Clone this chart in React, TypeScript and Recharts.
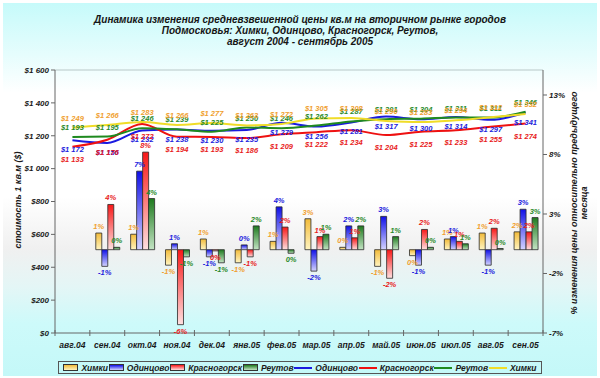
import React from 'react';
import { ComposedChart, Bar, Line, XAxis, YAxis, LabelList, ReferenceLine } from 'recharts';

const months = ['авг.04', 'сен.04', 'окт.04', 'ноя.04', 'дек.04', 'янв.05', 'фев.05', 'мар.05', 'апр.05', 'май.05', 'июн.05', 'июл.05', 'авг.05', 'сен.05'];

const khimkiPrice = [1249, 1266, 1283, 1266, 1277, 1263, 1272, 1305, 1308, 1290, 1283, 1294, 1312, 1332];
const odintsovoPrice = [1172, 1156, 1232, 1238, 1230, 1235, 1279, 1256, 1281, 1317, 1300, 1314, 1297, 1341];
const krasnogorskPrice = [1133, 1176, 1272, 1194, 1193, 1186, 1209, 1222, 1234, 1204, 1225, 1233, 1255, 1274];
const reutovPrice = [1193, 1195, 1246, 1239, 1225, 1250, 1246, 1262, 1287, 1301, 1304, 1311, 1311, 1346];

const khimkiChange = [null, 1.4, 1.3, -1.3, 0.9, -1.1, 0.7, 2.6, 0.2, -1.4, -0.5, 0.9, 1.4, 1.5];
const odintsovoChange = [null, -1.4, 6.6, 0.5, -0.6, 0.4, 3.6, -1.8, 2.0, 2.8, -1.3, 1.1, -1.3, 3.4];
const krasnogorskChange = [null, 3.8, 8.2, -6.3, -0.1, -0.6, 1.9, 1.1, 1.0, -2.4, 1.7, 0.7, 1.8, 1.5];
const reutovChange = [null, 0.2, 4.3, -0.6, -1.1, 2.0, -0.3, 1.3, 2.0, 1.1, 0.2, 0.5, 0.1, 2.7];

const priceTicks = [0, 200, 400, 600, 800, 1000, 1200, 1400, 1600];
const pctTicks = [-7, -2, 3, 8, 13];

const titleLines = [
  'Динамика изменения средневзвешенной цены кв.м на вторичном рынке городов',
  'Подмосковья: Химки, Одинцово, Красногорск, Реутов,',
  'август 2004 - сентябрь 2005',
];

const data = months.map((m, i) => ({
  month: m,
  khimkiP: khimkiPrice[i],
  odintsovoP: odintsovoPrice[i],
  krasnogorskP: krasnogorskPrice[i],
  reutovP: reutovPrice[i],
  khimkiC: khimkiChange[i],
  odintsovoC: odintsovoChange[i],
  krasnogorskC: krasnogorskChange[i],
  reutovC: reutovChange[i],
}));

const FONT = '"Liberation Sans", Arial, sans-serif';
const W = 600;
const H = 378;
const MARGIN = { top: 70, right: 7, bottom: 15, left: 5 };
const Y_W = 50;
const PLOT_W = W - MARGIN.left - MARGIN.right - 2 * Y_W;
const BAND = PLOT_W / months.length;

const C = {
  khimki: { top: '#f2bb3a', bottom: '#fff4c0', label: '#f0a030', line: '#f0dc28' },
  odintsovo: { top: '#1010e8', bottom: '#d4d4ff', label: '#2222dd', line: '#1a1ae0' },
  krasnogorsk: { top: '#f81818', bottom: '#ffe0e0', label: '#e81c1c', line: '#ee1111' },
  reutov: { top: '#1e7a1e', bottom: '#c4e4c4', label: '#2a8a2a', line: '#1f8a1f' },
};

const fmtPrice = (v: number) => {
  if (v >= 1000) {
    const th = Math.floor(v / 1000);
    const rest = String(v % 1000).padStart(3, '0');
    return `$${th} ${rest}`;
  }
  return `$${v}`;
};

const fmtPct = (v: number) => `${Math.round(v)}%`;

const makeBarLabel = (color: string) => (props: any) => {
  const { x, y, width, height, value } = props;
  if (value === null || value === undefined) return null;
  const nx = Number(x), ny = Number(y), nw = Number(width), nh = Number(height);
  const top = Math.min(ny, ny + nh);
  const bottom = Math.max(ny, ny + nh);
  const ty = value >= 0 ? top - 4 : bottom + 9;
  return (
    <text x={nx + nw / 2} y={ty} textAnchor="middle" fill={color} fontSize={7.5}
      fontStyle="italic" fontWeight="bold" fontFamily={FONT}>
      {fmtPct(Number(value))}
    </text>
  );
};

const makeLineLabel = (color: string, dy: number) => (props: any) => {
  const { x, y, value } = props;
  if (value === null || value === undefined) return null;
  return (
    <text x={Number(x)} y={Number(y) + dy} textAnchor="middle" fill={color} fontSize={7.5}
      fontStyle="italic" fontWeight="bold" fontFamily={FONT}>
      {fmtPrice(Number(value))}
    </text>
  );
};

const XTick = (props: any) => {
  const { x, y, payload, index } = props;
  const half = BAND / 2;
  return (
    <g>
      <line x1={x - half} x2={x - half} y1={y - 3} y2={y + 3} stroke="#666" />
      {index === months.length - 1 && (
        <line x1={x + half} x2={x + half} y1={y - 3} y2={y + 3} stroke="#666" />
      )}
      <text x={x} y={y + 15} textAnchor="middle" fontSize={8.5} fontStyle="italic"
        fontWeight="bold" fontFamily={FONT} fill="#1a1a1a">
        {payload.value}
      </text>
    </g>
  );
};

const tickStyle = { fontSize: 8, fontStyle: 'italic', fontWeight: 'bold', fontFamily: FONT, fill: '#1a1a1a' } as any;

const legendItems = [
  { kind: 'bar', name: 'Химки', c: C.khimki },
  { kind: 'bar', name: 'Одинцово', c: C.odintsovo },
  { kind: 'bar', name: 'Красногорск', c: C.krasnogorsk },
  { kind: 'bar', name: 'Реутов', c: C.reutov },
  { kind: 'line', name: 'Одинцово', c: C.odintsovo },
  { kind: 'line', name: 'Красногорск', c: C.krasnogorsk },
  { kind: 'line', name: 'Реутов', c: C.reutov },
  { kind: 'line', name: 'Химки', c: C.khimki },
];

export default function App() {
  const barProps = { yAxisId: 'right', isAnimationActive: false, stroke: '#2a2a2a', strokeWidth: 0.8 } as any;
  const lineProps = { yAxisId: 'left', type: 'monotone', dot: false, strokeWidth: 2, isAnimationActive: false } as any;
  return (
    <div style={{ position: 'relative', width: W, height: H, background: '#ffffff', overflow: 'hidden' }}>
      <style>{`body{margin:0}`}</style>
      <div style={{
        position: 'absolute', left: 3, top: 3, right: 3, bottom: 2,
        background: 'linear-gradient(to bottom, #c6fafa 0%, #e6fdfd 14%, #ffffff 24%, #ffffff 52%, #f0f0f0 66%, #e4f6f6 76%, #cdfafa 86%, #c4f8f8 100%)',
      }} />
      <div style={{ position: 'absolute', left: 0, top: 0 }}>
        <ComposedChart width={W} height={H} data={data} margin={MARGIN} barCategoryGap="17%" barGap={0}>
          <defs>
            {Object.entries(C).map(([k, c]) => (
              <linearGradient key={k} id={`g-${k}`} x1="0" y1="0" x2="0" y2="1">
                <stop offset="0%" stopColor={c.top} />
                <stop offset="100%" stopColor={c.bottom} />
              </linearGradient>
            ))}
          </defs>
          <XAxis dataKey="month" height={30} tickSize={0} tickMargin={0} tickLine={false}
            axisLine={{ stroke: '#666' }} tick={<XTick />} interval={0} />
          <YAxis yAxisId="left" domain={[0, 1600]} ticks={priceTicks} width={Y_W}
            tickFormatter={fmtPrice} tick={tickStyle} tickSize={4} tickMargin={2}
            axisLine={{ stroke: '#666' }} tickLine={{ stroke: '#666' }} />
          <YAxis yAxisId="right" orientation="right" domain={[-7, 15.1]} ticks={pctTicks} width={Y_W}
            tickFormatter={(v: number) => `${v}%`} tick={tickStyle} tickSize={4} tickMargin={2}
            axisLine={{ stroke: '#666' }} tickLine={{ stroke: '#666' }} allowDataOverflow />
          <ReferenceLine yAxisId="left" y={1600} stroke="#b8c8c8" strokeWidth={1} />
          <Bar dataKey="khimkiC" name="Химки" fill="url(#g-khimki)" {...barProps}>
            <LabelList dataKey="khimkiC" content={makeBarLabel(C.khimki.label)} />
          </Bar>
          <Bar dataKey="odintsovoC" name="Одинцово" fill="url(#g-odintsovo)" {...barProps}>
            <LabelList dataKey="odintsovoC" content={makeBarLabel(C.odintsovo.label)} />
          </Bar>
          <Bar dataKey="krasnogorskC" name="Красногорск" fill="url(#g-krasnogorsk)" {...barProps}>
            <LabelList dataKey="krasnogorskC" content={makeBarLabel(C.krasnogorsk.label)} />
          </Bar>
          <Bar dataKey="reutovC" name="Реутов" fill="url(#g-reutov)" {...barProps}>
            <LabelList dataKey="reutovC" content={makeBarLabel(C.reutov.label)} />
          </Bar>
          <Line dataKey="odintsovoP" name="Одинцово" stroke={C.odintsovo.line} {...lineProps}>
            <LabelList dataKey="odintsovoP" content={makeLineLabel(C.odintsovo.label, 12)} />
          </Line>
          <Line dataKey="krasnogorskP" name="Красногорск" stroke={C.krasnogorsk.line} {...lineProps}>
            <LabelList dataKey="krasnogorskP" content={makeLineLabel(C.krasnogorsk.label, 15)} />
          </Line>
          <Line dataKey="reutovP" name="Реутов" stroke={C.reutov.line} {...lineProps}>
            <LabelList dataKey="reutovP" content={makeLineLabel(C.reutov.label, -7)} />
          </Line>
          <Line dataKey="khimkiP" name="Химки" stroke={C.khimki.line} {...lineProps}>
            <LabelList dataKey="khimkiP" content={makeLineLabel(C.khimki.label, -7)} />
          </Line>
        </ComposedChart>
      </div>
      <svg width={W} height={H} style={{ position: 'absolute', left: 0, top: 0, pointerEvents: 'none' }}>
        {titleLines.map((t, i) => (
          <text key={i} x={300} y={23 + i * 11} textAnchor="middle" fontSize={10} fontStyle="italic"
            fontWeight="bold" fontFamily={FONT} fill="#161616">{t}</text>
        ))}
        <text transform="translate(21,200) rotate(-90)" textAnchor="middle" fontSize={9} fontStyle="italic"
          fontWeight="bold" fontFamily={FONT} fill="#1a1a1a">стоимость 1 кв.м ($)</text>
        <text transform="translate(577,203) rotate(-90)" textAnchor="middle" fontSize={9} fontStyle="italic"
          fontWeight="bold" fontFamily={FONT} fill="#1a1a1a">% изменения цены относительно предыдущего</text>
        <text transform="translate(587,203) rotate(-90)" textAnchor="middle" fontSize={9} fontStyle="italic"
          fontWeight="bold" fontFamily={FONT} fill="#1a1a1a">месяца</text>
      </svg>
      <div style={{
        position: 'absolute', left: 58, top: 361, width: 484, height: 13, boxSizing: 'border-box',
        border: '1px solid #555', display: 'flex', alignItems: 'center', justifyContent: 'space-around',
        fontFamily: FONT, fontSize: 8.5, fontStyle: 'italic', fontWeight: 'bold', color: '#1a1a1a', padding: '0 4px',
      }}>
        {legendItems.map((it, i) => (
          <div key={i} style={{ display: 'flex', alignItems: 'center', whiteSpace: 'nowrap' }}>
            {it.kind === 'bar' ? (
              <span style={{
                display: 'inline-block', width: 13, height: 5, marginRight: 3, border: '1px solid #333',
                background: `linear-gradient(to bottom, ${it.c.top}, ${it.c.bottom})`,
              }} />
            ) : (
              <span style={{ display: 'inline-block', width: 18, height: 2, marginRight: 3, background: it.c.line }} />
            )}
            <span>{it.name}</span>
          </div>
        ))}
      </div>
    </div>
  );
}
